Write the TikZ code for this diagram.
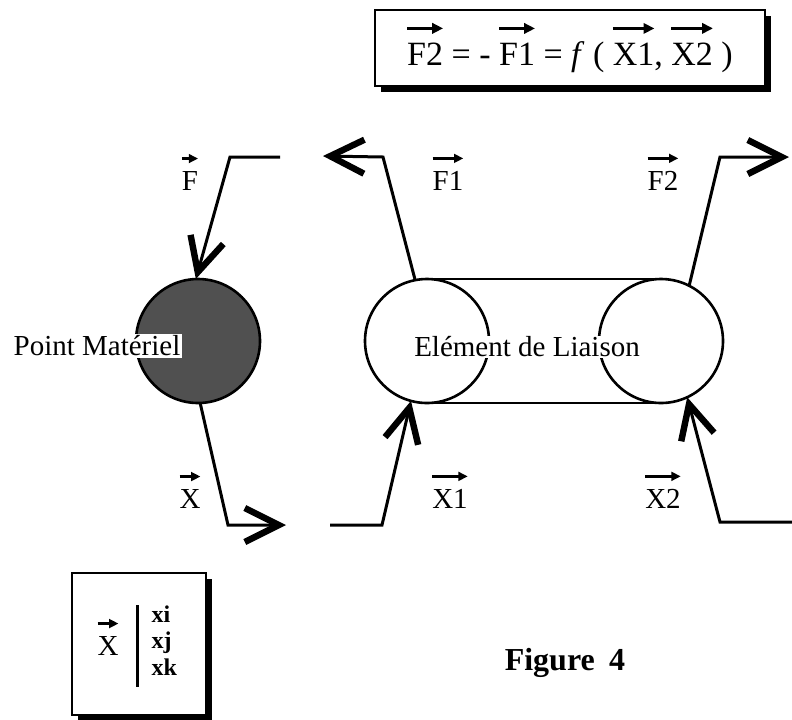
\documentclass[tikz,border=0pt]{standalone}
\usepackage{fontspec}
\setmainfont{Liberation Serif}
\usetikzlibrary{arrows.meta,positioning,shadows}
\definecolor{ink}{RGB}{0,0,0}
\definecolor{stipple}{RGB}{80,80,80}
\newlength{\vecwd}
\newcommand{\vect}[1]{\settowidth{\vecwd}{#1}\vbox{\offinterlineskip
  \hbox to\vecwd{\hss\tikz\draw[vecarrow] (0pt,0pt) -- (\vecwd,0pt);\hss}\kern0.28em\hbox{#1}}}
\tikzset{
  every picture/.style={color=ink, line width=1.5pt},
  vecarrow/.style={-{Triangle[length=0.32em,width=0.3em]}, line width=0.09em},
  lab/.style={font=\fontsize{14.5}{17}\selectfont, inner sep=1pt},
  vlab/.style={lab, anchor=base},
  ball/.style={circle, draw=ink, line width=1.3pt, minimum size=62pt, inner sep=0pt, outer sep=0pt},
  shadowbox/.style={draw=ink, fill=white, line width=1pt, drop shadow={shadow xshift=2.8pt, shadow yshift=-2.8pt, fill=ink, opacity=1}},
  barb/.style={-{Straight Barb[length=17pt, width=17pt, line width=3.2pt]}, line width=1.5pt},
  comp/.style={font=\fontsize{12}{14}\selectfont\bfseries, anchor=base west, inner sep=0pt},
}
\begin{document}
\begin{tikzpicture}[x=0.5pt, y=-0.5pt]
  \useasboundingbox (0,0) rectangle (792,719);
  % law
  \node[shadowbox, minimum width=195pt, minimum height=38pt, font=\fontsize{17}{20}\selectfont] (law) at (570,48)
    {\vect{F2} = - \vect{F1} = \textit{f} ( \vect{X1}, \vect{X2} )};
  % point
  \node[ball, fill=stipple] (pm) at (198,341) {};
  \node[lab, fill=white] (pmtext) at (97,346) {Point Matériel};
  % link
  \node[ball] (pl) at (427,341) {};
  \node[ball] (pr) at (661,341) {};
  \draw[line width=1.3pt] (pl.north) -- (pr.north) (pl.south) -- (pr.south);
  \node[lab, fill=white, inner sep=0.5pt] (linktext) at (527,347) {Elément de Liaison};
  % forces
  \coordinate (fin) at (280,157);   \coordinate (fknee) at (230,157);
  \coordinate (f1knee) at (383,157); \coordinate (f1out) at (323,156);
  \coordinate (f2knee) at (720,157); \coordinate (f2out) at (789,157);
  \draw[barb] (fin) -- (fknee) -- (pm.92);
  \draw[barb] (pl.101) -- (f1knee) -- (f1out);
  \draw[barb] (pr.63) -- (f2knee) -- (f2out);
  % positions
  \coordinate (xknee) at (228,525);  \coordinate (xout) at (286,525);
  \coordinate (x1in) at (330,525);   \coordinate (x1knee) at (382,525);
  \coordinate (x2in) at (792,522);   \coordinate (x2knee) at (720,522);
  \draw[barb] (pm.-88) -- (xknee) -- (xout);
  \draw[barb] (x1in) -- (x1knee) -- (pl.-105);
  \draw[barb] (x2in) -- (x2knee) -- (pr.-65);
  % labels
  \node[vlab] (lf) at (190,190) {\vect{F}};
  \node[vlab] (lf1) at (448,190) {\vect{F1}};
  \node[vlab] (lf2) at (663,190) {\vect{F2}};
  \node[vlab] (lx) at (190,508) {\vect{X}};
  \node[vlab] (lx1) at (450,508) {\vect{X1}};
  \node[vlab] (lx2) at (663,508) {\vect{X2}};
  % components
  \node[shadowbox, minimum width=67pt, minimum height=71pt] (key) at (139,644) {};
  \node[vlab] (kx) at (108,655) {\vect{X}};
  \coordinate (bartop) at (137,605); \coordinate (barbot) at (137,687);
  \draw (bartop) -- (barbot);
  \node[comp] (xi) at (150,622) {xi};
  \node[comp] (xj) at (150,648) {xj};
  \node[comp] (xk) at (150,675) {xk};
  \node[font=\fontsize{16}{19}\selectfont\bfseries] (cap) at (565,663) {Figure\hspace{0.45em}4};
\end{tikzpicture}
\end{document}
